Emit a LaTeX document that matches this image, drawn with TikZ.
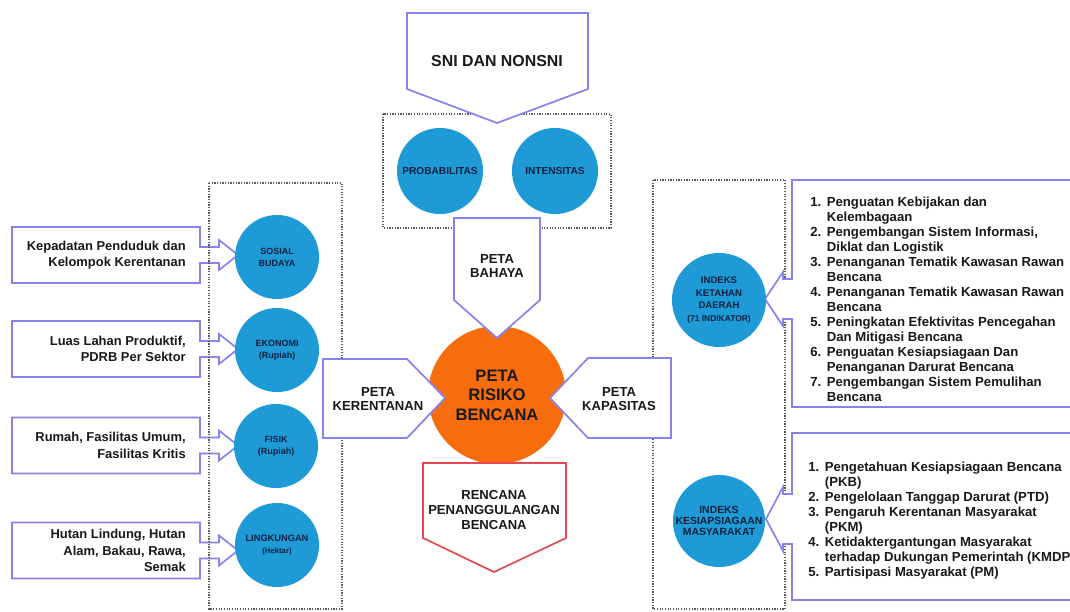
\documentclass[tikz,border=0pt]{standalone}
\usepackage{fontspec}
\setmainfont{Liberation Sans}
\definecolor{circblue}{RGB}{30,155,215}
\definecolor{riskorange}{RGB}{247,108,12}
\definecolor{boxline}{RGB}{135,130,240}
\definecolor{redline}{RGB}{232,72,82}
\definecolor{dotgray}{RGB}{90,90,90}
\definecolor{circtext}{RGB}{15,32,62}
\definecolor{bodytext}{RGB}{25,25,25}
\tikzset{
  arrowbox/.style={draw=boxline, fill=white, line width=1.2pt, line join=miter},
  redbox/.style={draw=redline, fill=white, line width=1.2pt, line join=miter},
  dotbox/.style={draw=dotgray, densely dotted, line width=0.9pt},
  bluecirc/.style={circle, fill=circblue, inner sep=0pt, align=center, text=circtext},
  boxlabel/.style={align=center, text=bodytext, inner sep=0pt, font=\bfseries\fontsize{9.3}{10.4}\selectfont},
  lefttext/.style={align=right, text=bodytext, inner sep=0pt, anchor=east, font=\bfseries\fontsize{9.2}{11.8}\selectfont},
  listtext/.style={align=left, text=bodytext, inner sep=0pt, anchor=west, font=\bfseries\fontsize{9.35}{10.7}\selectfont}
}
\begin{document}
\begin{tikzpicture}[x=0.025cm, y=-0.025cm]
\useasboundingbox (0,0) rectangle (1070,611);
\clip (0,0) rectangle (1070,611);

% left input boxes
\foreach \cy in {255,349,445.5,550.5}
  \draw[arrowbox] (12,\cy-28) -- (200,\cy-28) -- (200,\cy-8) -- (219,\cy-8) -- (219,\cy-15) -- (238,\cy)
    -- (219,\cy+15) -- (219,\cy+8) -- (200,\cy+8) -- (200,\cy+28) -- (12,\cy+28) -- cycle;
\node[lefttext] (kepadatan) at (186,255) {Kepadatan Penduduk dan\\Kelompok Kerentanan};
\node[lefttext] (lahan) at (186,349) {Luas Lahan Produktif,\\PDRB Per Sektor};
\node[lefttext] (rumah) at (186,445.5) {Rumah, Fasilitas Umum,\\Fasilitas Kritis};
\node[lefttext] (hutan) at (186,550.5) {Hutan Lindung, Hutan\\Alam, Bakau, Rawa,\\Semak};

% dotted groups
\draw[dotbox] (209,183) rectangle (342,609);
\draw[dotbox] (383,114) rectangle (611,228);
\draw[dotbox] (653,180) rectangle (785,609);

% right lists
\draw[arrowbox] (1080,180) -- (792,180) -- (792,279) -- (783,279) -- (783,272) -- (765,299) -- (783,326)
  -- (783,319) -- (792,319) -- (792,407) -- (1080,407);
\draw[arrowbox] (1080,433) -- (792,433) -- (792,494) -- (783,494) -- (783,487) -- (766,519) -- (783,551)
  -- (783,544) -- (792,544) -- (792,600) -- (1080,600);
\node[listtext] (ketlist) at (810,301) {\begin{tabular}{@{}l@{\hspace{4pt}}l@{}}
1. & Penguatan Kebijakan dan\\
   & Kelembagaan\\
2. & Pengembangan Sistem Informasi,\\
   & Diklat dan Logistik\\
3. & Penanganan Tematik Kawasan Rawan\\
   & Bencana\\
4. & Penanganan Tematik Kawasan Rawan\\
   & Bencana\\
5. & Peningkatan Efektivitas Pencegahan\\
   & Dan Mitigasi Bencana\\
6. & Penguatan Kesiapsiagaan Dan\\
   & Penanganan Darurat Bencana\\
7. & Pengembangan Sistem Pemulihan\\
   & Bencana
\end{tabular}};
\node[listtext] (kmlist) at (808,521) {\begin{tabular}{@{}l@{\hspace{4pt}}l@{}}
1. & Pengetahuan Kesiapsiagaan Bencana\\
   & (PKB)\\
2. & Pengelolaan Tanggap Darurat (PTD)\\
3. & Pengaruh Kerentanan Masyarakat\\
   & (PKM)\\
4. & Ketidaktergantungan Masyarakat\\
   & terhadap Dukungan Pemerintah (KMDP\\
5. & Partisipasi Masyarakat (PM)
\end{tabular}};

% circles
\node[bluecirc, minimum size=2.15cm, font=\bfseries\fontsize{7.2}{8}\selectfont] (prob) at (440,171) {PROBABILITAS};
\node[bluecirc, minimum size=2.15cm, font=\bfseries\fontsize{7.2}{8}\selectfont] (inten) at (555,171) {INTENSITAS};
\node[bluecirc, minimum size=2.1cm, font=\bfseries\fontsize{6.4}{8.5}\selectfont] (sosial) at (277,257) {SOSIAL\\BUDAYA};
\node[bluecirc, minimum size=2.1cm, font=\bfseries\fontsize{6.4}{8.5}\selectfont] (ekonomi) at (277,350) {EKONOMI\\(Rupiah)};
\node[bluecirc, minimum size=2.1cm, font=\bfseries\fontsize{6.4}{8.5}\selectfont] (fisik) at (276,446) {FISIK\\(Rupiah)};
\node[bluecirc, minimum size=2.1cm, font=\bfseries\fontsize{6.6}{8.5}\selectfont] (lingkungan) at (277,545) {LINGKUNGAN\\{\fontsize{5.5}{8.5}\selectfont(Hektar)}};
\node[bluecirc, minimum size=2.35cm, font=\bfseries\fontsize{6.8}{9}\selectfont] (ketahanan) at (719,300) {INDEKS\\KETAHAN\\DAERAH\\{\fontsize{6}{9}\selectfont(71 INDIKATOR)}};
\node[bluecirc, minimum size=2.3cm, font=\bfseries\fontsize{7.4}{7.6}\selectfont] (kesiap) at (719,521) {INDEKS\\KESIAPSIAGAAN\\MASYARAKAT};
\node[circle, fill=riskorange, minimum size=3.45cm, inner sep=0pt] (risiko) at (497,395) {};

% arrows into the map
\draw[arrowbox] (407,13) -- (588,13) -- (588,89) -- (497,123) -- (407,89) -- cycle;
\node[boxlabel, font=\bfseries\fontsize{11.3}{13}\selectfont] (sni) at (497,61) {SNI DAN NONSNI};
\draw[arrowbox] (454,218) -- (540,218) -- (540,300) -- (497,338) -- (454,300) -- cycle;
\node[boxlabel] (bahaya) at (497,266) {PETA\\BAHAYA};
\draw[arrowbox] (323,359) -- (407,359) -- (445,398) -- (407,438) -- (323,438) -- cycle;
\node[boxlabel] (kerentanan) at (378,399) {PETA\\KERENTANAN};
\draw[arrowbox] (671,358) -- (588,358) -- (550,398) -- (588,438) -- (671,438) -- cycle;
\node[boxlabel] (kapasitas) at (619,399) {PETA\\KAPASITAS};
\draw[redbox] (423,463) -- (566,463) -- (566,538) -- (494,572) -- (423,538) -- cycle;
\node[boxlabel, font=\bfseries\fontsize{9.3}{10.7}\selectfont] (rencana) at (494,510) {RENCANA\\PENANGGULANGAN\\BENCANA};
\node[boxlabel, font=\bfseries\fontsize{11.8}{13.8}\selectfont] (risikolabel) at (risiko) {PETA\\RISIKO\\BENCANA};
\end{tikzpicture}
\end{document}
